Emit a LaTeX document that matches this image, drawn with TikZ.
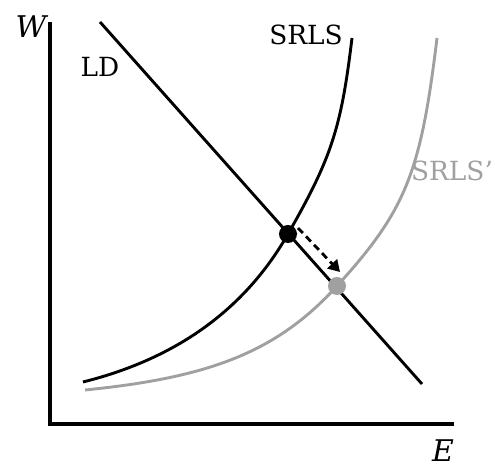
\documentclass[tikz,border=0pt]{standalone}
\usepackage{fontspec}
\setmainfont{DejaVu Serif}
\usepackage{tikz}
\usetikzlibrary{arrows.meta,positioning,calc}
\definecolor{shiftGray}{RGB}{160,160,160}

\begin{document}
\begin{tikzpicture}[
          axis/.style={line width=1.8pt},
          curve/.style={line width=1.65pt},
          lbl/.style={font=\fontsize{15}{18}\selectfont, inner sep=0pt},
          axlbl/.style={font=\fontsize{17}{20}\selectfont\itshape, inner sep=0pt},
          dot/.style={circle, fill, inner sep=0pt, minimum size=0.36cm},
          >={Triangle[length=6.5pt,width=7.5pt]}
        ]
          \useasboundingbox (-1,-0.88) rectangle (8.9,8.48);
          % axes
          \coordinate (origin) at (0,0);
          \coordinate (ytop) at (0,8.04);
          \coordinate (xend) at (8.08,0);
          \draw[axis] (ytop) -- (origin) -- (xend);
          \node[axlbl] (W) at (-0.38,7.94) {W};
          \node[axlbl] (E) at (7.86,-0.54) {E};
          % labour demand
          \coordinate (ldtop) at (1.0,8.04);
          \coordinate (ldbot) at (7.44,0.8);
          \draw[curve] (ldtop) -- (ldbot);
          \node[lbl] (LD) at (1.0,7.14) {LD};
          % supply curves
          \coordinate (e1) at (4.76,3.8);
          \coordinate (e2) at (5.74,2.76);
          \coordinate (s1a) at (0.66,0.84);
          \coordinate (s1b) at (6.04,7.72);
          \coordinate (s2a) at (0.70,0.68);
          \coordinate (s2b) at (7.74,7.72);
          \draw[curve] (s1a) .. controls (2.66,1.34) and (3.96,2.40) .. (e1)
            .. controls (5.631,5.325) and (5.823,5.913) .. (s1b);
          \draw[curve, shiftGray] (s2a) .. controls (3.2,0.93) and (4.54,1.44) .. (e2)
            .. controls (7.115,4.273) and (7.415,5.017) .. (s2b);
          \node[lbl] (srls) at (5.12,7.78) {SRLS};
          \node[lbl, shiftGray] (srls2) at (8.04,5.06) {SRLS’};
          % equilibria
          \node[dot] (eq1) at (e1) {};
          \node[dot, shiftGray] (eq2) at (e2) {};
          \draw[->, line width=1.6pt, dash pattern=on 4pt off 2.6pt]
            ([shift={(0.2,0.12)}]eq1.center) -- ([shift={(0.06,0.28)}]eq2.center);
        \end{tikzpicture}
\end{document}
